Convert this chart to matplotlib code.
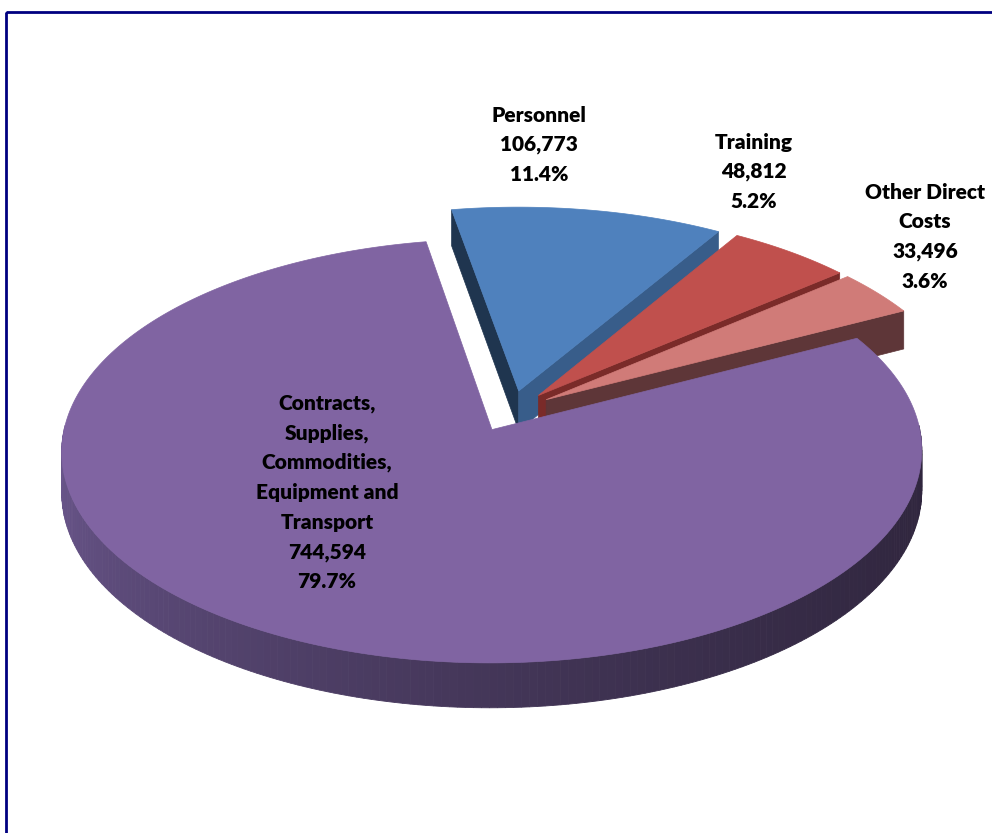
import numpy as np
import matplotlib
matplotlib.use('Agg')
import matplotlib.pyplot as plt
from matplotlib.patches import Polygon, Rectangle

# Data
categories = ['Personnel', 'Training', 'Other Direct\nCosts',
              'Contracts,\nSupplies,\nCommodities,\nEquipment and\nTransport']
values = [106773, 48812, 33496, 744594]
value_labels = ['106,773', '48,812', '33,496', '744,594']
pct_labels = ['11.4%', '5.2%', '3.6%', '79.7%']

# Styles
top_colors = ['#4f81bd', '#c0504d', '#d07b78', '#8064a2']
start_face_colors = ['#1f354f', '#7a2b29', '#5e3638', '#3a2d4c']
end_face_colors = ['#385d8a', '#7a2b29', '#5e3638', '#3a2d4c']
side_light = np.array([106, 86, 140]) / 255
side_dark = np.array([48, 38, 62]) / 255

# Geometry of the projected pie (pixels)
CX, CY = 511, 411
A, B = 424, 206
P = 0.10       # perspective
H = 40         # thickness
EXPLODE = 0.10
START = 100.0  # degrees, first slice starts here, going clockwise


def proj(u, v, z=0.0):
    s = 1.0 / (1.0 + P * v)
    return CX + A * u * s, CY - B * v * s + H * z * s


fig = plt.figure(figsize=(9.92, 8.33), dpi=100)
ax = fig.add_axes([0, 0, 1, 1])
ax.set_xlim(0, 992)
ax.set_ylim(833, 0)
ax.axis('off')

# outer frame (only left and top edges are inside the picture)
ax.add_patch(Rectangle((6, 12), 1200, 1200, fill=False, edgecolor='#000080',
                       linewidth=2, clip_on=False))

total = sum(values)
fracs = [v / total for v in values]
bounds = START - 360 * np.concatenate([[0], np.cumsum(fracs)])


def draw_slice(i):
    t1, t2 = np.radians(bounds[i]), np.radians(bounds[i + 1])
    m = (t1 + t2) / 2
    ox, oy = EXPLODE * np.cos(m), EXPLODE * np.sin(m)
    ts = np.linspace(t1, t2, 300)
    # radial faces
    for t, col, vis in [(t1, start_face_colors[i], np.cos(t1) < 0),
                        (t2, end_face_colors[i], np.cos(t2) > 0)]:
        if not vis:
            continue
        pts = [proj(ox, oy, 0), proj(ox + np.cos(t), oy + np.sin(t), 0),
               proj(ox + np.cos(t), oy + np.sin(t), 1), proj(ox, oy, 1)]
        ax.add_patch(Polygon(pts, closed=True, facecolor=col, edgecolor=col,
                             linewidth=0.5))
    # outer curved side, front part only, shaded strips
    for k in range(len(ts) - 1):
        ta, tb = ts[k], ts[k + 1]
        if np.sin(ta) > 0.02 and np.sin(tb) > 0.02:
            continue
        f = ((1 + np.cos((ta + tb) / 2)) / 2) ** 0.6
        col = side_light * (1 - f) + side_dark * f
        pts = [proj(ox + np.cos(ta), oy + np.sin(ta), 0),
               proj(ox + np.cos(tb), oy + np.sin(tb), 0),
               proj(ox + np.cos(tb), oy + np.sin(tb), 1),
               proj(ox + np.cos(ta), oy + np.sin(ta), 1)]
        ax.add_patch(Polygon(pts, closed=True, facecolor=col, edgecolor=col,
                             linewidth=0.6))
    # top face
    pts = [proj(ox, oy, 0)] + [proj(ox + np.cos(t), oy + np.sin(t), 0) for t in ts]
    ax.add_patch(Polygon(pts, closed=True, facecolor=top_colors[i],
                         edgecolor=top_colors[i], linewidth=0.5))


for i in range(len(values)):
    draw_slice(i)

# labels
label_pos = [(539, 115), (754, 142), (925, 192), (327, 403)]
LINE = 29.8
font = dict(family=['Lato', 'DejaVu Sans'], fontweight='heavy', fontsize=15,
            color='black', ha='center', va='center')
for i, (x, y) in enumerate(label_pos):
    lines = categories[i].split('\n') + [value_labels[i], pct_labels[i]]
    for j, line in enumerate(lines):
        ax.text(x, y + j * LINE, line, **font)

fig.savefig('out.png', dpi=100)
